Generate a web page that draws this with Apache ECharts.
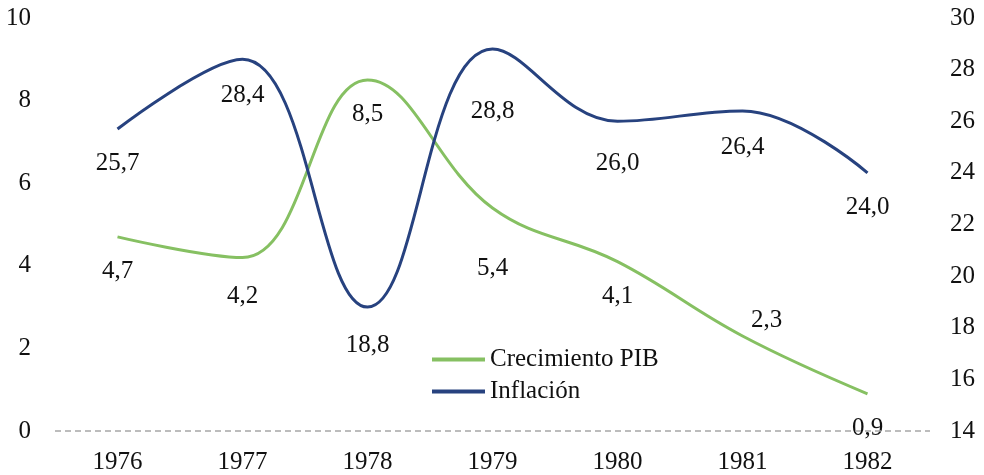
<!DOCTYPE html>
<html>
<head>
<meta charset="utf-8">
<script src="https://cdn.jsdelivr.net/npm/echarts@6/dist/echarts.min.js"></script>
<style>
  html, body { margin: 0; padding: 0; background: #fff; }
  #chart { width: 984px; height: 475px; }
</style>
</head>
<body>
<div id="chart"></div>
<script>
const years = ["1976", "1977", "1978", "1979", "1980", "1981", "1982"];
const pib = [4.7, 4.2, 8.5, 5.4, 4.1, 2.3, 0.9];
const inflacion = [25.7, 28.4, 18.8, 28.8, 26.0, 26.4, 24.0];

const FONT = "Liberation Serif";
const green = "#86c062";
const blue = "#27427f";

// label offsets per point, to mimic the reference placement
const pibOffsets = [[0, 0], [0, 4], [0, 0], [0, 26], [0, 0], [24, -50], [0, 0]];
const infOffsets = [[0, 0], [0, 2], [0, 4], [0, 28], [0, 8], [0, 2], [0, 0]];

function fmt(v) {
  return v.toFixed(1).replace(".", ",");
}

function buildData(values, offsets) {
  return values.map((v, i) => ({
    value: v,
    label: { offset: offsets[i] },
  }));
}

let chart = echarts.init(document.getElementById("chart"));

let option = {
  animation: false,
  textStyle: { fontFamily: FONT },
  grid: {
    left: 55,
    right: 54,
    top: 18,
    bottom: 44,
  },
  legend: {
    orient: "vertical",
    left: 427,
    top: 342,
    itemWidth: 53,
    itemHeight: 4,
    itemGap: 7,
    icon: "rect",
    textStyle: { fontFamily: FONT, fontSize: 25, color: "#111" },
    data: [
      { name: "Crecimiento PIB", itemStyle: { color: green } },
      { name: "Inflación", itemStyle: { color: blue } },
    ],
  },
  xAxis: {
    type: "category",
    data: years,
    axisLine: { show: false },
    axisTick: { show: false },
    axisLabel: { fontFamily: FONT, fontSize: 25, color: "#111", margin: 19 },
  },
  yAxis: [
    {
      type: "value",
      min: 0,
      max: 10,
      interval: 2,
      splitLine: { show: false },
      axisLine: { show: false },
      axisTick: { show: false },
      axisLabel: { fontFamily: FONT, fontSize: 25, color: "#111", margin: 24 },
    },
    {
      type: "value",
      min: 14,
      max: 30,
      interval: 2,
      splitLine: { show: false },
      axisLine: { show: false },
      axisTick: { show: false },
      axisLabel: { fontFamily: FONT, fontSize: 25, color: "#111", margin: 20 },
    },
  ],
  series: [
    {
      name: "Crecimiento PIB",
      type: "line",
      yAxisIndex: 0,
      smooth: 0.4,
      symbol: "circle",
      symbolSize: 2,
      showSymbol: true,
      lineStyle: { color: green, width: 3 },
      itemStyle: { color: "rgba(0,0,0,0)" },
      label: {
        show: true,
        position: "bottom",
        distance: 21,
        fontFamily: FONT,
        fontSize: 25,
        color: "#111",
        formatter: (p) => fmt(p.value),
      },
      markLine: {
        silent: true,
        symbol: "none",
        label: { show: false },
        lineStyle: { color: "#a6a6a6", type: [6, 4], width: 1.5 },
        data: [{ yAxis: 0 }],
      },
      data: buildData(pib, pibOffsets),
    },
    {
      name: "Inflación",
      type: "line",
      yAxisIndex: 1,
      smooth: 0.4,
      symbol: "circle",
      symbolSize: 2,
      showSymbol: true,
      lineStyle: { color: blue, width: 3 },
      itemStyle: { color: "rgba(0,0,0,0)" },
      label: {
        show: true,
        position: "bottom",
        distance: 21,
        fontFamily: FONT,
        fontSize: 25,
        color: "#111",
        formatter: (p) => fmt(p.value),
      },
      data: buildData(inflacion, infOffsets),
    },
  ],
};

chart.setOption(option);
</script>
</body>
</html>
